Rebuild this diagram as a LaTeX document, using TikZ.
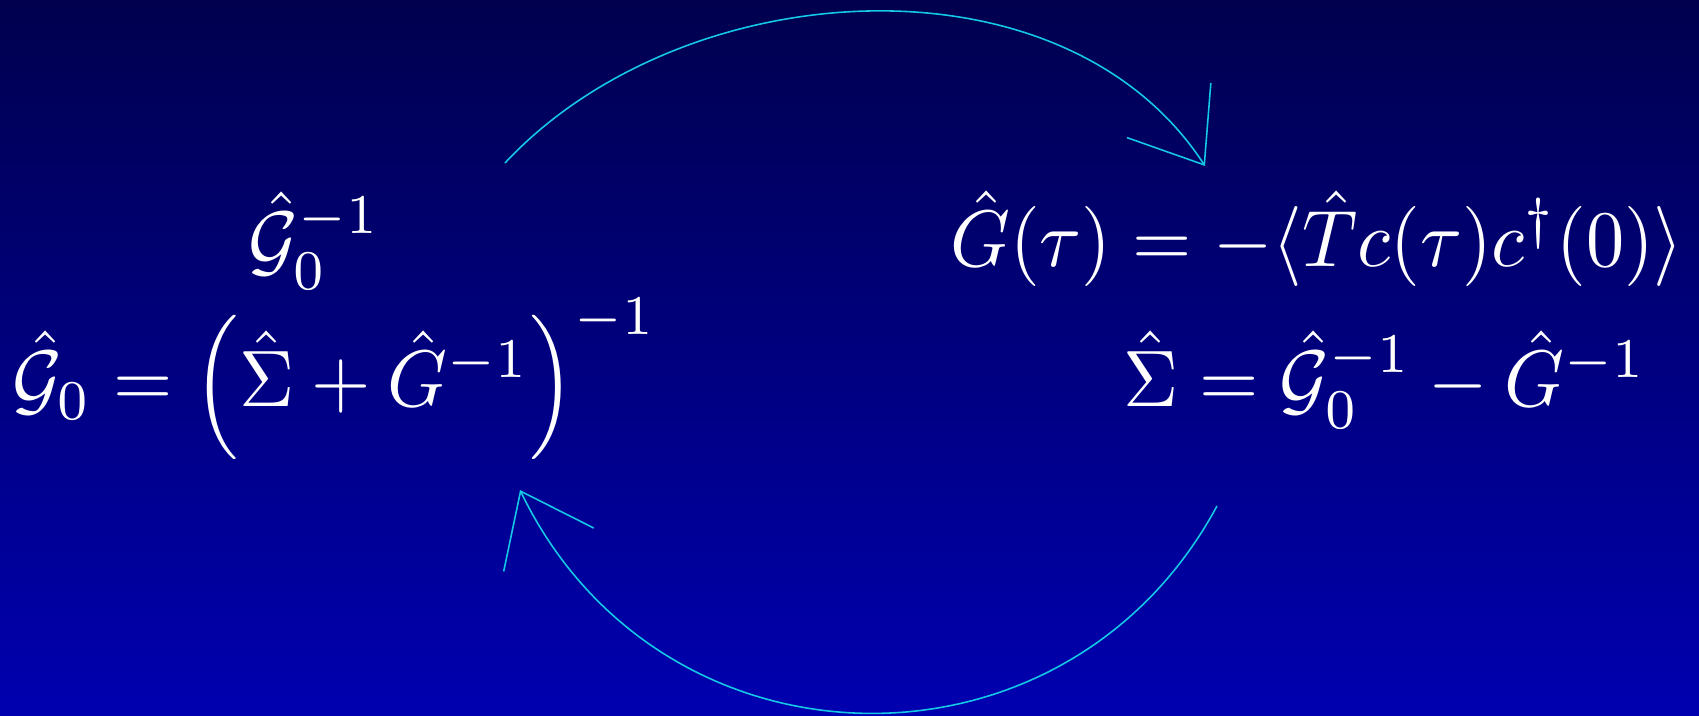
\documentclass[tikz,border=0pt]{standalone}
\usepackage{amsmath}
\usepackage{tikz}
\usetikzlibrary{positioning,arrows.meta}
\definecolor{bgtop}{RGB}{0,0,78}
\definecolor{bgbot}{RGB}{0,0,176}
\definecolor{loopcyan}{RGB}{20,200,230}
\tikzset{
  eqn/.style ={text=white, inner sep=0pt, xscale=2.17, yscale=2.28},
  loop/.style={-{Straight Barb[length=6.5mm,width=10mm]}, line width=0.45pt, draw=loopcyan},
}

\begin{document}
\begin{tikzpicture}
% background
\useasboundingbox (0,0) rectangle (16.99,7.16);
\shade[top color=bgtop, bottom color=bgbot] (0,0) rectangle (16.99,7.16);

% equations
\node[eqn, anchor=base] (ginv) at (3.145,4.48) {$\hat{\mathcal{G}}_0^{-1}$};
\node[eqn, anchor=base] (gnew) at (3.345,3.09)
  {$\hat{\mathcal{G}}_0=\left(\hat{\Sigma}+\hat{G}^{-1}\right)^{-1}$};
\node[eqn, anchor=base] (gtau) at (13.17,4.49)
  {$\hat{G}(\tau)=-\langle\hat{T}c(\tau)c^{\dagger}(0)\rangle$};
\node[eqn, anchor=base] (sig) at (13.85,3.09)
  {$\hat{\Sigma}=\hat{\mathcal{G}}_0^{-1}-\hat{G}^{-1}$};

% loop ends
\coordinate (topa) at (5.05,5.53);
\coordinate (topb) at (12.05,5.50);
\coordinate (bota) at (12.17,2.10);
\coordinate (botb) at (5.20,2.26);

% loop
\draw[loop] (topa) to[out=47, in=123, looseness=0.95] (topb);
\draw[loop] (bota) to[bend left=63, looseness=1.18] (botb);
\end{tikzpicture}
\end{document}
